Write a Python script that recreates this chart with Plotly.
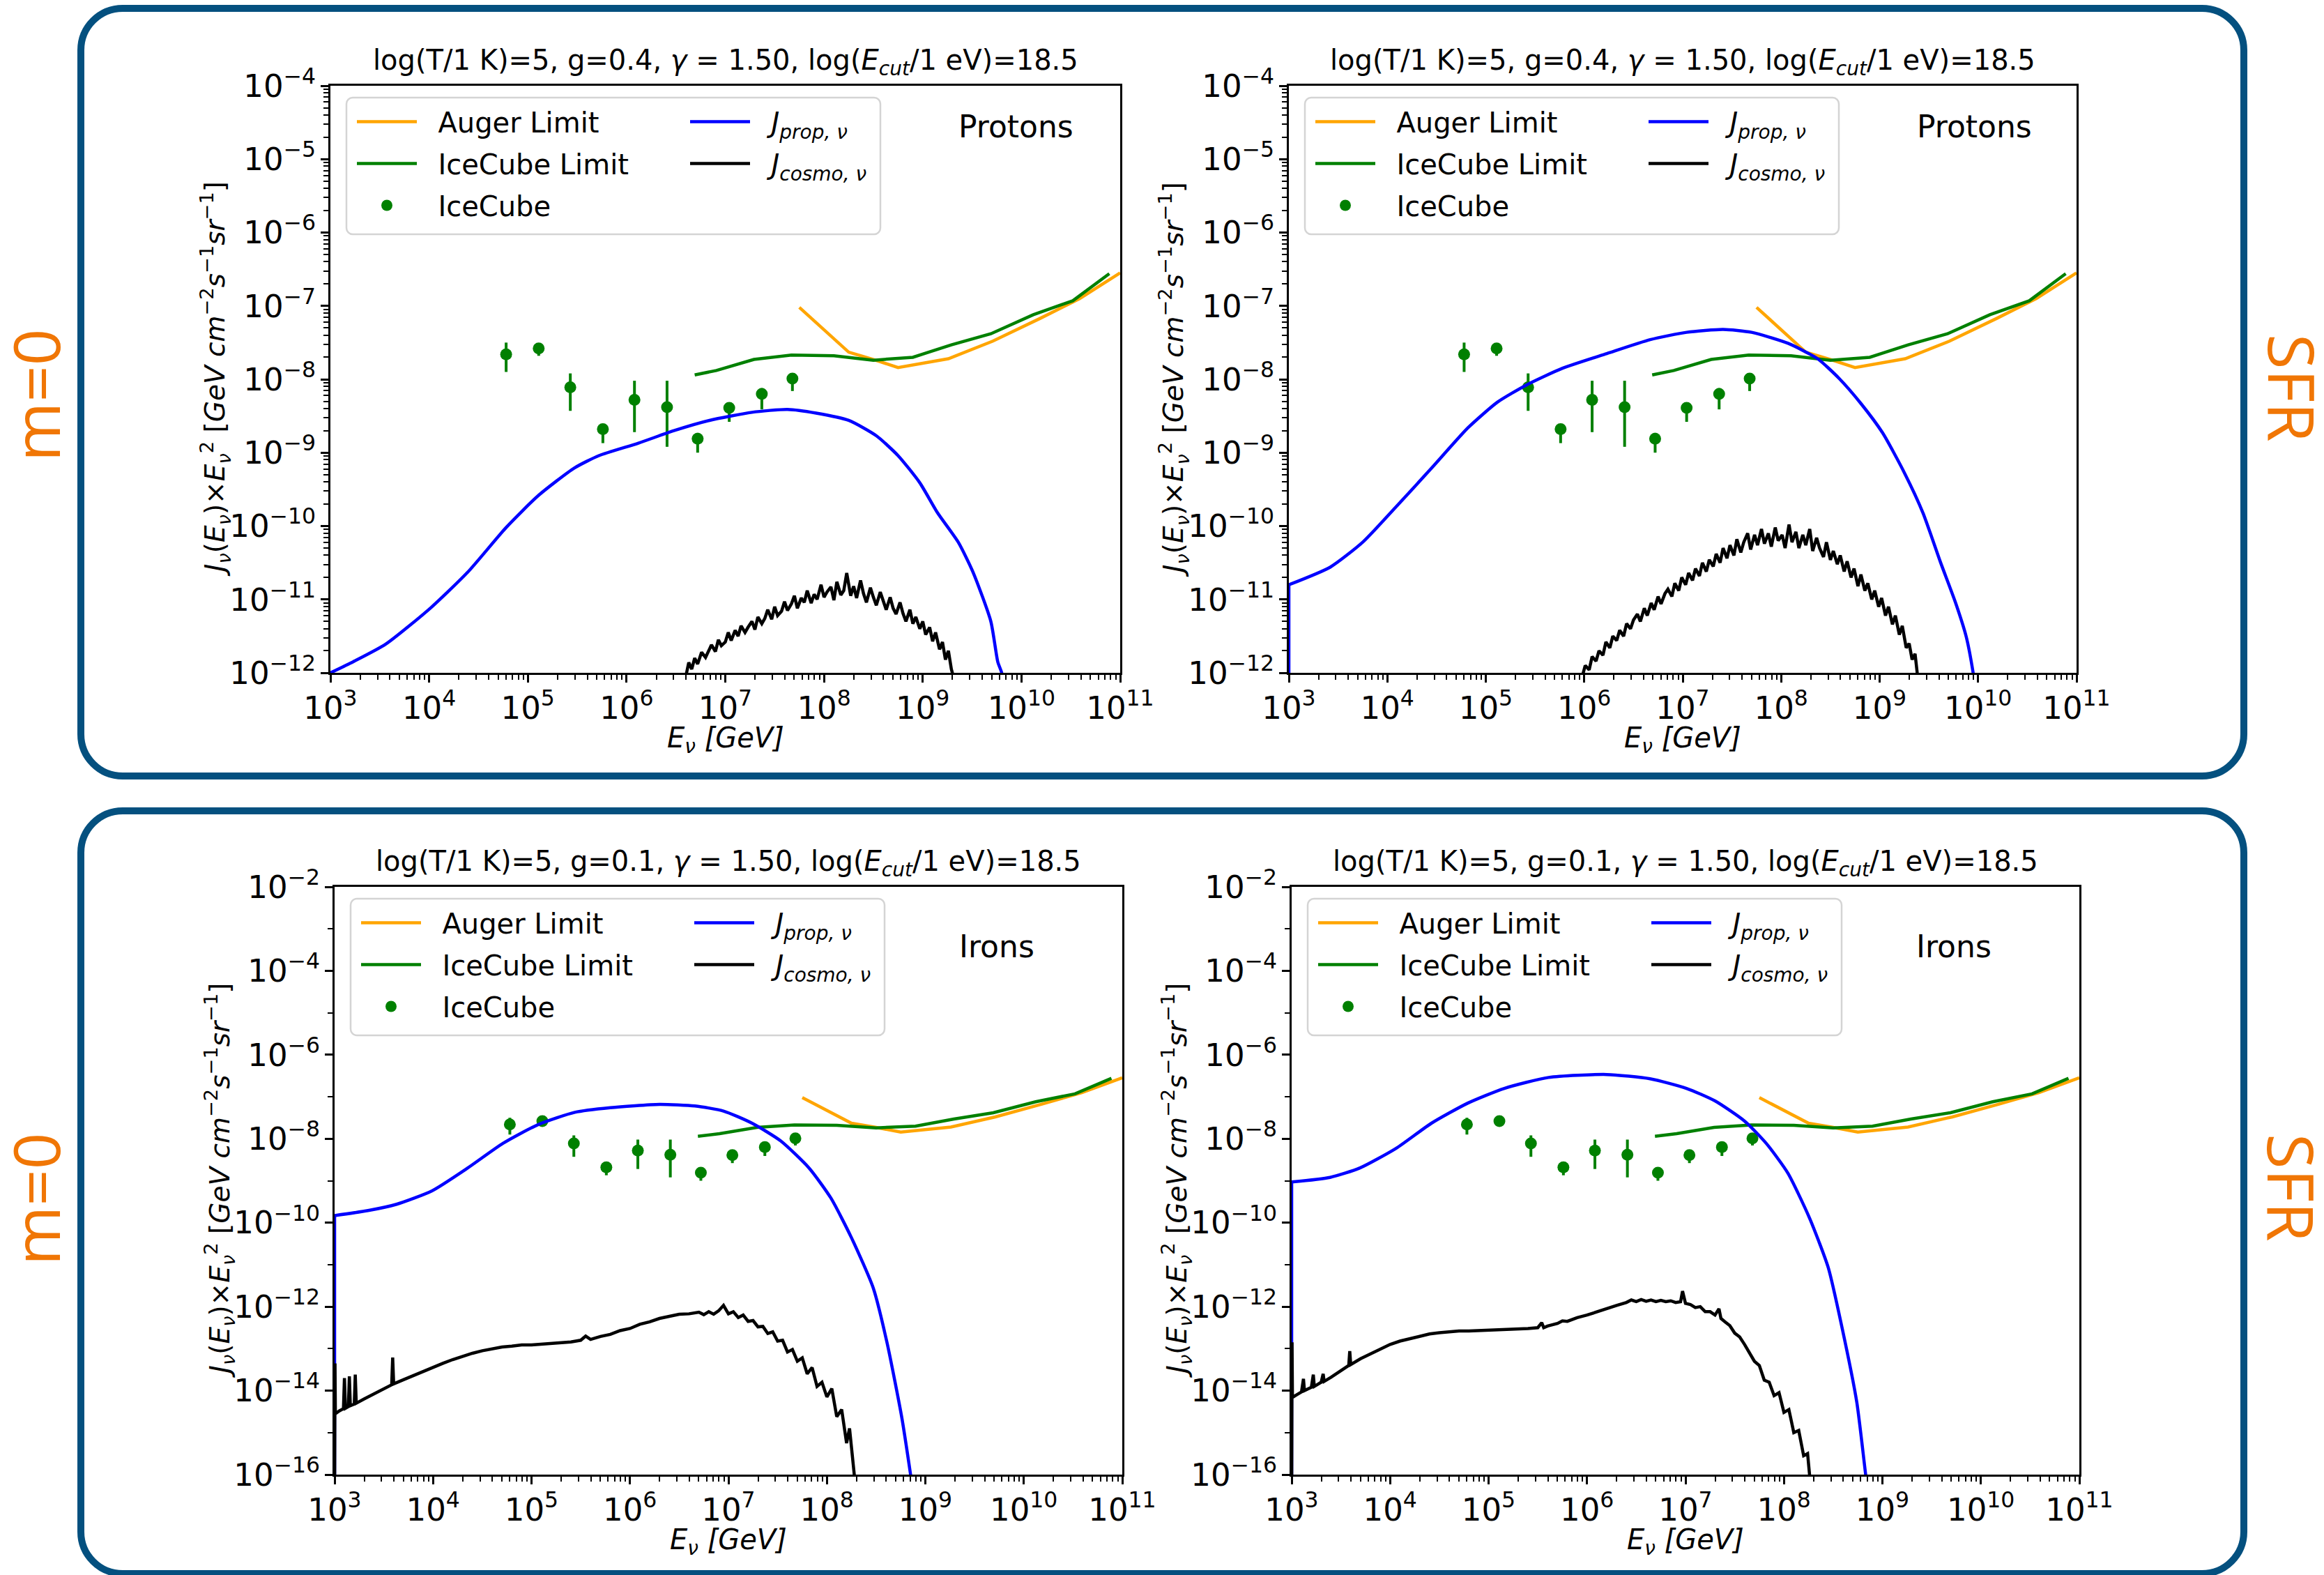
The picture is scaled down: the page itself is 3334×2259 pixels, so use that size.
import numpy as np
import plotly.graph_objects as go

W, H = 3334, 2259
FONT = "DejaVu Sans"
SIDE_FONT = "Open Sans"

# ---------------- data (log10 of E [GeV] and of J*E^2) ----------------
icecube_logE = [4.78, 5.11, 5.43, 5.76, 6.08, 6.41, 6.72, 7.04, 7.37, 7.68]
icecube_logJ = [-7.66, -7.58, -8.11, -8.68, -8.28, -8.38, -8.81, -8.39, -8.20, -7.99]
icecube_logJ_lo = [-7.90, -7.68, -8.43, -8.87, -8.72, -8.92, -9.00, -8.58, -8.41, -8.16]
icecube_logJ_hi = [-7.50, -7.51, -7.92, -8.61, -8.02, -8.02, -8.73, -8.33, -8.12, -7.92]

auger_logE = [7.75, 8.25, 8.50, 8.75, 9.26, 9.71, 10.19, 10.59, 11.0]
auger_logJ = [-7.02, -7.63, -7.73, -7.84, -7.72, -7.48, -7.17, -6.90, -6.55]

iclim_logE = [6.69, 6.91, 7.29, 7.67, 8.10, 8.50, 8.90, 9.29, 9.69, 10.12, 10.52, 10.89]
iclim_logJ = [-7.94, -7.88, -7.73, -7.67, -7.68, -7.74, -7.70, -7.53, -7.38, -7.12, -6.93, -6.56]

# protons, m=0
prop_p_m0_logE = [3.0, 3.23, 3.56, 4.02, 4.39, 4.78, 5.11, 5.47, 5.72, 6.12, 6.48, 6.84, 7.27,
                  7.63, 7.92, 8.25, 8.53, 8.75, 8.97, 9.15, 9.36, 9.51, 9.69, 9.76, 9.80, 9.83]
prop_p_m0_logJ = [-12.0, -11.85, -11.61, -11.11, -10.63, -10.02, -9.58, -9.21, -9.04, -8.87, -8.70,
                  -8.56, -8.45, -8.41, -8.46, -8.56, -8.77, -9.04, -9.41, -9.82, -10.22, -10.63,
                  -11.30, -11.85, -12.0, -12.3]
cosmo_p_m0_logE = [6.60, 6.63, 6.66, 6.69, 6.72, 6.76, 6.80, 6.83, 6.86, 6.90, 6.93, 6.96, 7.00,
                   7.03, 7.06, 7.10, 7.13, 7.16, 7.20, 7.23, 7.27, 7.30, 7.33, 7.37, 7.40, 7.43,
                   7.47, 7.50, 7.53, 7.57, 7.60, 7.63, 7.67, 7.70, 7.73, 7.77, 7.80, 7.83, 7.87,
                   7.90, 7.93, 7.97, 8.00, 8.03, 8.07, 8.10, 8.13, 8.17, 8.20, 8.23, 8.27, 8.30,
                   8.33, 8.37, 8.40, 8.43, 8.47, 8.50, 8.53, 8.57, 8.60, 8.63, 8.67, 8.70, 8.73,
                   8.77, 8.80, 8.83, 8.87, 8.90, 8.93, 8.97, 9.00, 9.03, 9.07, 9.10, 9.13, 9.17,
                   9.20, 9.23, 9.26, 9.29, 9.32]
cosmo_p_m0_logJ = [-12.05, -11.86, -11.95, -11.80, -11.88, -11.72, -11.79, -11.70, -11.62, -11.71,
                   -11.55, -11.63, -11.58, -11.45, -11.56, -11.42, -11.50, -11.36, -11.45, -11.38,
                   -11.30, -11.41, -11.24, -11.33, -11.26, -11.14, -11.27, -11.10, -11.22, -11.16,
                   -11.03, -11.15, -11.06, -10.95, -11.12, -10.98, -11.04, -10.88, -11.05, -10.93,
                   -11.00, -10.80, -10.97, -10.90, -10.83, -11.01, -10.76, -10.94, -10.88, -10.64,
                   -10.95, -10.82, -10.98, -10.74, -10.92, -11.04, -10.84, -10.97, -11.08, -10.90,
                   -11.02, -11.14, -10.97, -11.12, -11.20, -11.04, -11.19, -11.30, -11.14, -11.33,
                   -11.24, -11.40, -11.30, -11.48, -11.38, -11.57, -11.45, -11.68, -11.58, -11.82,
                   -11.70, -11.95, -12.10]

# protons, SFR
prop_p_sfr_logE = [3.0, 3.42, 3.75, 4.08, 4.45, 4.82, 5.12, 5.41, 5.78, 6.23, 6.67, 7.04, 7.41,
                   7.70, 8.07, 8.37, 8.59, 8.81, 9.03, 9.25, 9.44, 9.62, 9.77, 9.88, 9.95, 9.98]
prop_p_sfr_logJ = [-10.80, -10.56, -10.22, -9.75, -9.21, -8.66, -8.31, -8.08, -7.85, -7.65, -7.46,
                   -7.36, -7.32, -7.36, -7.51, -7.72, -7.99, -8.33, -8.73, -9.27, -9.82, -10.50,
                   -11.04, -11.51, -12.0, -12.3]
cosmo_p_sfr_logE = [5.98, 6.01, 6.05, 6.08, 6.12, 6.15, 6.19, 6.22, 6.26, 6.29, 6.33, 6.36, 6.40,
                    6.43, 6.47, 6.50, 6.54, 6.57, 6.61, 6.64, 6.68, 6.71, 6.75, 6.78, 6.82, 6.85,
                    6.89, 6.92, 6.96, 6.99, 7.03, 7.06, 7.10, 7.13, 7.17, 7.20, 7.24, 7.27, 7.31,
                    7.34, 7.38, 7.41, 7.45, 7.48, 7.52, 7.55, 7.59, 7.62, 7.66, 7.69, 7.73, 7.76,
                    7.80, 7.83, 7.87, 7.90, 7.94, 7.97, 8.01, 8.04, 8.08, 8.11, 8.15, 8.18, 8.22,
                    8.25, 8.29, 8.32, 8.36, 8.39, 8.43, 8.46, 8.50, 8.53, 8.57, 8.60, 8.64, 8.67,
                    8.71, 8.74, 8.78, 8.81, 8.85, 8.88, 8.92, 8.95, 8.99, 9.02, 9.06, 9.09, 9.13,
                    9.16, 9.20, 9.23, 9.27, 9.30, 9.33, 9.36, 9.39]
cosmo_p_sfr_logJ = [-12.05, -11.90, -11.96, -11.78, -11.84, -11.70, -11.76, -11.58, -11.66, -11.50,
                    -11.56, -11.42, -11.50, -11.33, -11.40, -11.28, -11.20, -11.30, -11.12, -11.22,
                    -11.05, -11.14, -10.96, -11.06, -10.92, -10.86, -10.96, -10.78, -10.88, -10.70,
                    -10.80, -10.64, -10.74, -10.58, -10.68, -10.50, -10.62, -10.46, -10.55, -10.38,
                    -10.50, -10.30, -10.44, -10.26, -10.40, -10.18, -10.36, -10.22, -10.10, -10.32,
                    -10.12, -10.26, -10.04, -10.24, -10.10, -10.28, -10.02, -10.20, -10.12, -10.30,
                    -9.98, -10.22, -10.08, -10.30, -10.12, -10.26, -10.04, -10.34, -10.16, -10.30,
                    -10.42, -10.22, -10.46, -10.34, -10.52, -10.40, -10.62, -10.48, -10.70, -10.58,
                    -10.82, -10.66, -10.88, -10.78, -11.00, -10.88, -11.10, -10.98, -11.22, -11.10,
                    -11.34, -11.22, -11.48, -11.36, -11.66, -11.60, -11.82, -11.74, -12.10]

# irons, m=0
prop_fe_m0_logE = [3.0, 3.34, 3.63, 3.99, 4.35, 4.71, 5.07, 5.44, 5.80, 6.30, 6.66, 6.95, 7.24,
                   7.53, 7.82, 8.04, 8.25, 8.47, 8.61, 8.76, 8.85, 8.88]
prop_fe_m0_logJ = [-9.83, -9.71, -9.56, -9.24, -8.70, -8.11, -7.66, -7.37, -7.26, -7.18, -7.22,
                   -7.34, -7.63, -8.05, -8.70, -9.41, -10.36, -11.55, -12.85, -14.63, -16.0, -16.5]
cosmo_fe_m0_logE = [3.000, 3.004, 3.008, 3.05, 3.09, 3.10, 3.11, 3.14, 3.15, 3.16, 3.20, 3.21,
                    3.22, 3.30, 3.40, 3.50, 3.58, 3.59, 3.60, 3.70, 3.80, 3.90, 4.00, 4.10, 4.20,
                    4.30, 4.40, 4.50, 4.60, 4.70, 4.80, 4.90, 5.00, 5.10, 5.20, 5.30, 5.40, 5.50,
                    5.55, 5.60, 5.70, 5.80, 5.90, 6.00, 6.10, 6.20, 6.30, 6.40, 6.50, 6.60, 6.70,
                    6.75, 6.80, 6.85, 6.90, 6.95, 7.00, 7.05, 7.10, 7.15, 7.20, 7.25, 7.30, 7.35,
                    7.40, 7.45, 7.50, 7.55, 7.60, 7.65, 7.70, 7.75, 7.80, 7.85, 7.90, 7.95, 8.00,
                    8.05, 8.10, 8.15, 8.20, 8.23, 8.27, 8.30]
cosmo_fe_m0_logJ = [-16.50, -13.35, -14.55, -14.48, -14.43, -13.70, -14.42, -14.38, -13.66, -14.36,
                    -14.32, -13.62, -14.30, -14.20, -14.08, -13.96, -13.86, -13.21, -13.84, -13.74,
                    -13.64, -13.54, -13.45, -13.35, -13.26, -13.18, -13.11, -13.05, -13.00, -12.96,
                    -12.94, -12.91, -12.91, -12.89, -12.88, -12.86, -12.84, -12.80, -12.70, -12.78,
                    -12.71, -12.66, -12.57, -12.52, -12.42, -12.36, -12.28, -12.23, -12.18, -12.17,
                    -12.13, -12.19, -12.12, -12.18, -12.10, -11.97, -12.17, -12.12, -12.26, -12.20,
                    -12.35, -12.33, -12.48, -12.47, -12.64, -12.60, -12.82, -12.80, -13.08, -13.02,
                    -13.30, -13.22, -13.60, -13.45, -13.90, -13.80, -14.15, -13.95, -14.62, -14.45,
                    -15.25, -14.90, -15.70, -16.50]

# irons, SFR
prop_fe_sfr_logE = [3.0, 3.39, 3.69, 4.06, 4.42, 4.79, 5.16, 5.61, 6.20, 6.64, 7.01, 7.30, 7.60,
                    7.82, 8.04, 8.26, 8.45, 8.59, 8.74, 8.83, 8.86]
prop_fe_sfr_logJ = [-9.03, -8.92, -8.70, -8.23, -7.63, -7.15, -6.80, -6.54, -6.47, -6.57, -6.80,
                    -7.10, -7.58, -8.11, -8.82, -9.89, -11.07, -12.50, -14.28, -16.0, -16.5]
cosmo_fe_sfr_logE = [3.000, 3.004, 3.008, 3.05, 3.10, 3.12, 3.13, 3.20, 3.22, 3.23, 3.30, 3.32,
                     3.33, 3.40, 3.50, 3.58, 3.59, 3.60, 3.70, 3.80, 3.90, 4.00, 4.10, 4.20, 4.30,
                     4.40, 4.50, 4.60, 4.70, 4.80, 4.90, 5.00, 5.10, 5.20, 5.30, 5.40, 5.50, 5.54,
                     5.56, 5.60, 5.70, 5.75, 5.80, 5.90, 6.00, 6.10, 6.20, 6.30, 6.40, 6.45, 6.50,
                     6.55, 6.60, 6.65, 6.70, 6.75, 6.80, 6.85, 6.90, 6.95, 6.97, 7.00, 7.05, 7.10,
                     7.15, 7.20, 7.25, 7.30, 7.34, 7.36, 7.40, 7.45, 7.50, 7.55, 7.60, 7.65, 7.70,
                     7.75, 7.80, 7.85, 7.90, 7.95, 8.00, 8.05, 8.10, 8.15, 8.20, 8.24, 8.28]
cosmo_fe_sfr_logJ = [-16.50, -12.85, -14.16, -14.10, -14.03, -13.72, -14.00, -13.92, -13.62, -13.90,
                     -13.80, -13.60, -13.78, -13.68, -13.52, -13.40, -13.06, -13.38, -13.24, -13.12,
                     -13.00, -12.90, -12.82, -12.76, -12.70, -12.65, -12.62, -12.60, -12.58, -12.58,
                     -12.57, -12.57, -12.56, -12.55, -12.53, -12.52, -12.50, -12.38, -12.50, -12.46,
                     -12.40, -12.34, -12.35, -12.26, -12.20, -12.12, -12.05, -11.97, -11.90, -11.84,
                     -11.88, -11.83, -11.87, -11.84, -11.88, -11.85, -11.88, -11.86, -11.90, -11.88,
                     -11.63, -11.92, -11.95, -12.02, -12.00, -12.12, -12.12, -12.20, -12.05, -12.28,
                     -12.36, -12.45, -12.63, -12.72, -12.90, -13.10, -13.30, -13.40, -13.75, -13.80,
                     -14.12, -14.05, -14.52, -14.45, -15.00, -14.95, -15.55, -15.50, -16.50]

titles = [
    "log(T/1 K)=5, g=0.4, <i>γ</i> = 1.50, log(<i>E</i><sub><i>cut</i></sub>/1 eV)=18.5",
    "log(T/1 K)=5, g=0.4, <i>γ</i> = 1.50, log(<i>E</i><sub><i>cut</i></sub>/1 eV)=18.5",
    "log(T/1 K)=5, g=0.1, <i>γ</i> = 1.50, log(<i>E</i><sub><i>cut</i></sub>/1 eV)=18.5",
    "log(T/1 K)=5, g=0.1, <i>γ</i> = 1.50, log(<i>E</i><sub><i>cut</i></sub>/1 eV)=18.5",
]
species = ["Protons", "Protons", "Irons", "Irons"]
row_labels = ["m=0", "m=0"]
col_label = "SFR"

prop_sets = [(prop_p_m0_logE, prop_p_m0_logJ), (prop_p_sfr_logE, prop_p_sfr_logJ),
             (prop_fe_m0_logE, prop_fe_m0_logJ), (prop_fe_sfr_logE, prop_fe_sfr_logJ)]
cosmo_sets = [(cosmo_p_m0_logE, cosmo_p_m0_logJ), (cosmo_p_sfr_logE, cosmo_p_sfr_logJ),
              (cosmo_fe_m0_logE, cosmo_fe_m0_logJ), (cosmo_fe_sfr_logE, cosmo_fe_sfr_logJ)]
# whether the propagated curve starts with a vertical rise at the lower energy edge
prop_rise = [False, True, True, True]

y_ranges = [(-12, -4), (-12, -4), (-16, -2), (-16, -2)]
y_dticks = [1, 1, 2, 2]

# panel frames in pixels: (left, top, right, bottom)
frames = [(474, 123, 1607, 965), (1849, 123, 2979, 965),
          (480, 1272, 1610, 2115), (1853, 1272, 2983, 2115)]
# position of the species label relative to the panel's top-left corner
species_offset = [(983, 58), (983, 58), (950, 86), (950, 86)]

C_AUGER = "#FFA500"
C_IC = "#008000"
C_PROP = "#0000FF"
C_COSMO = "#000000"
C_BOX = "#04507f"
C_SIDE = "#f07605"
GAP = "\u00a0\u00a0"   # spacing between legend symbol and label


def px(x):
    return x / W


def py(y):
    return 1 - y / H


def rr_path(x0, y0, x1, y1, r):
    k = 0.5523 * r
    pts = [("M", [(x0 + r, y0)]), ("L", [(x1 - r, y0)]),
           ("C", [(x1 - r + k, y0), (x1, y0 + r - k), (x1, y0 + r)]),
           ("L", [(x1, y1 - r)]),
           ("C", [(x1, y1 - r + k), (x1 - r + k, y1), (x1 - r, y1)]),
           ("L", [(x0 + r, y1)]),
           ("C", [(x0 + r - k, y1), (x0, y1 - r + k), (x0, y1 - r)]),
           ("L", [(x0, y0 + r)]),
           ("C", [(x0, y0 + r - k), (x0 + r - k, y0), (x0 + r, y0)])]
    s = ""
    for cmd, plist in pts:
        s += cmd + " ".join(f"{px(a):.6f},{py(b):.6f}" for a, b in plist) + " "
    return s + "Z"


p10 = lambda v: np.power(10.0, np.asarray(v, dtype=float))

fig = go.Figure()
layout = dict(
    width=W, height=H, margin=dict(l=0, r=0, t=0, b=0, autoexpand=False),
    paper_bgcolor="white", plot_bgcolor="white",
    font=dict(family=FONT, size=38, color="black"),
    showlegend=True,
)
annotations = []
shapes = []

ic_y = p10(icecube_logJ)
ic_plus = p10(icecube_logJ_hi) - ic_y
ic_minus = ic_y - p10(icecube_logJ_lo)

LEG_FONT = dict(family=FONT, size=40, color="black")

for i in range(4):
    n = "" if i == 0 else str(i + 1)
    xa, ya = "x" + n, "y" + n
    L, T, R, B = frames[i]
    leg1 = "legend" if i == 0 else f"legend{2 * i + 1}"
    leg2 = f"legend{2 * i + 2}"

    fig.add_trace(go.Scatter(
        x=p10(auger_logE), y=p10(auger_logJ), mode="lines", name=GAP + "Auger Limit",
        line=dict(color=C_AUGER, width=4.5), xaxis=xa, yaxis=ya, legend=leg1,
        legendgroup=f"a{i}"))
    fig.add_trace(go.Scatter(
        x=p10(iclim_logE), y=p10(iclim_logJ), mode="lines", name=GAP + "IceCube Limit",
        line=dict(color=C_IC, width=4.5), xaxis=xa, yaxis=ya, legend=leg1,
        legendgroup=f"b{i}"))
    fig.add_trace(go.Scatter(
        x=p10(icecube_logE), y=ic_y, mode="markers", name=GAP + "IceCube",
        marker=dict(color=C_IC, size=17),
        error_y=dict(type="data", symmetric=False, array=ic_plus, arrayminus=ic_minus,
                     color=C_IC, thickness=4, width=0),
        xaxis=xa, yaxis=ya, legend=leg1, legendgroup=f"c{i}"))

    pe, pj = prop_sets[i]
    lo_edge = y_ranges[i][0] - 1
    if prop_rise[i]:
        fig.add_trace(go.Scatter(
            x=p10([pe[0], pe[0]]), y=p10([lo_edge, pj[0]]), mode="lines",
            line=dict(color=C_PROP, width=4.5), xaxis=xa, yaxis=ya, showlegend=False,
            legendgroup=f"d{i}", legend=leg2, hoverinfo="skip"))
    fig.add_trace(go.Scatter(
        x=p10(pe), y=p10(pj), mode="lines",
        name=GAP + "<i>J</i><sub><i>prop, ν</i></sub>",
        line=dict(color=C_PROP, width=4.5, shape="spline", smoothing=0.6),
        xaxis=xa, yaxis=ya, legend=leg2, legendgroup=f"d{i}"))
    ce, cj = cosmo_sets[i]
    fig.add_trace(go.Scatter(
        x=p10(ce), y=p10(cj), mode="lines",
        name=GAP + "<i>J</i><sub><i>cosmo, ν</i></sub>",
        line=dict(color=C_COSMO, width=4.5), xaxis=xa, yaxis=ya, legend=leg2,
        legendgroup=f"e{i}"))

    axis_common = dict(
        type="log", showline=True, linecolor="black", linewidth=2.5, mirror=True,
        ticks="outside", ticklen=11, tickwidth=2.5, tickcolor="black",
        showgrid=False, zeroline=False, exponentformat="power", automargin=False,
        tickfont=dict(family=FONT, size=36, color="black"),
    )
    layout["xaxis" + n] = dict(
        axis_common, domain=[px(L), px(R)], range=[3, 11], dtick=1, anchor=ya,
        minor=dict(ticks="outside", ticklen=7, tickwidth=2, tickcolor="black", dtick="D1",
                   showgrid=False),
    )
    layout["yaxis" + n] = dict(
        axis_common, domain=[py(B), py(T)], range=list(y_ranges[i]), dtick=y_dticks[i],
        anchor=xa,
        minor=dict(ticks="outside", ticklen=7, tickwidth=2, tickcolor="black",
                   dtick="D1" if y_dticks[i] == 1 else 1, showgrid=False),
    )

    # legends: two columns inside a shared frame
    for leg, dx in ((leg1, 33), (leg2, 511)):
        layout[leg] = dict(x=px(L + dx), y=py(T + 19), xanchor="left", yanchor="top",
                           bgcolor="rgba(0,0,0,0)", borderwidth=0, font=LEG_FONT,
                           itemwidth=86, traceorder="grouped", tracegroupgap=5)
    shapes.append(dict(type="path", xref="paper", yref="paper",
                       path=rr_path(L + 23, T + 17, L + 789, T + 213, 9),
                       line=dict(color="#d4d4d4", width=2.5),
                       fillcolor="rgba(255,255,255,0.8)", layer="above"))

    cx = (L + R) / 2
    annotations.append(dict(text=titles[i], x=px(cx), y=py(T - 34), xref="paper",
                            yref="paper", showarrow=False, xanchor="center",
                            yanchor="middle", font=dict(family=FONT, size=40)))
    sx, sy = species_offset[i]
    annotations.append(dict(text=species[i], x=px(L + sx), y=py(T + sy),
                            xref="paper", yref="paper", showarrow=False, xanchor="center",
                            yanchor="middle", font=dict(family=FONT, size=44)))
    annotations.append(dict(text="<i>E</i><sub><i>ν</i></sub> <i>[GeV]</i>", x=px(cx),
                            y=py(B + 96), xref="paper", yref="paper", showarrow=False,
                            xanchor="center", yanchor="middle",
                            font=dict(family=FONT, size=40)))
    annotations.append(dict(
        text="<i>J</i><sub><i>ν</i></sub>(<i>E</i><sub><i>ν</i></sub>)×<i>E</i><sub><i>ν</i></sub><sup>2</sup>"
             " [<i>GeV cm</i><sup>−2</sup><i>s</i><sup>−1</sup><i>sr</i><sup>−1</sup>]",
        x=px(L - 165), y=py((T + B) / 2), xref="paper", yref="paper", showarrow=False,
        xanchor="center", yanchor="middle", textangle=-90,
        font=dict(family=FONT, size=39)))

# side labels for each row
for r, yc in enumerate([(567, 556), (1720, 1703)]):
    annotations.append(dict(text=row_labels[r], x=px(50), y=py(yc[0]), xref="paper",
                            yref="paper", showarrow=False, textangle=-90,
                            xanchor="center", yanchor="middle",
                            font=dict(family=SIDE_FONT, size=92, color=C_SIDE)))
    annotations.append(dict(text=col_label, x=px(3289), y=py(yc[1]), xref="paper",
                            yref="paper", showarrow=False, textangle=90,
                            xanchor="center", yanchor="middle",
                            font=dict(family=SIDE_FONT, size=92, color=C_SIDE)))

# rounded frames around each row of panels
shapes.append(dict(type="path", xref="paper", yref="paper",
                   path=rr_path(116, 12, 3219, 1113, 60),
                   line=dict(color=C_BOX, width=10), layer="above"))
shapes.append(dict(type="path", xref="paper", yref="paper",
                   path=rr_path(116, 1163, 3219, 2257, 60),
                   line=dict(color=C_BOX, width=10), layer="above"))

layout["annotations"] = annotations
layout["shapes"] = shapes
fig.update_layout(**layout)
fig.write_html("out.html")
